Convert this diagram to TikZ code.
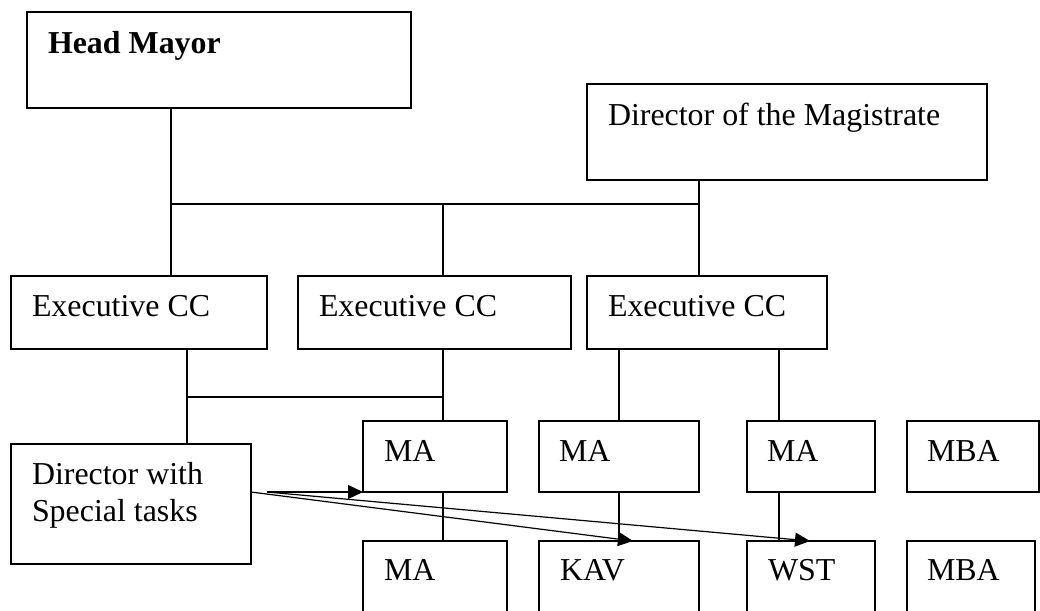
\documentclass[tikz,border=0pt]{standalone}
\usepackage{fontspec}
\setmainfont{Liberation Serif}
\usetikzlibrary{arrows.meta}
\begin{document}
\begin{tikzpicture}[x=1pt,y=-1pt,
  box/.style={draw, line width=1.2pt, inner sep=0pt, outer sep=0pt, rectangle},
  lbl/.style={anchor=base west, inner sep=0pt, outer sep=0pt, font=\fontsize{31.9}{36.7}\selectfont},
  conn/.style={line width=1.2pt},
  arr/.style={line width=1.2pt, -{Triangle[length=15pt,width=14pt]}}]
\clip (0,0) rectangle (1040,610);
\fill[white] (0,0) rectangle (1040,610);
% boxes
\node[box, minimum width=384pt, minimum height=96pt] (head) at (219,60) {};
\node[box, minimum width=400pt, minimum height=96pt] (dirmag) at (787,132) {};
\node[box, minimum width=256pt, minimum height=73pt] (exa) at (139,312.5) {};
\node[box, minimum width=273pt, minimum height=73pt] (exb) at (434.5,312.5) {};
\node[box, minimum width=240pt, minimum height=73pt] (exc) at (707,312.5) {};
\node[box, minimum width=240pt, minimum height=120pt] (dirspec) at (131,504) {};
\node[box, minimum width=144pt, minimum height=71pt] (maa) at (435,456.5) {};
\node[box, minimum width=160pt, minimum height=71pt] (mab) at (619,456.5) {};
\node[box, minimum width=128pt, minimum height=71pt] (mac) at (811,456.5) {};
\node[box, minimum width=132pt, minimum height=71pt] (mbaa) at (973,456.5) {};
\node[box, minimum width=144pt, minimum height=110pt] (mad) at (435,596) {};
\node[box, minimum width=160pt, minimum height=110pt] (kav) at (619,596) {};
\node[box, minimum width=128pt, minimum height=110pt] (wst) at (811,596) {};
\node[box, minimum width=128pt, minimum height=110pt] (mbab) at (971,596) {};
% texts
\node[lbl, font=\fontsize{31.9}{36.7}\selectfont\bfseries] (thead) at (48,54) {Head Mayor};
\node[lbl] (tdirmag) at (608,125) {Director of the Magistrate};
\node[lbl] (texa) at (32,316) {Executive CC};
\node[lbl] (texb) at (319,316) {Executive CC};
\node[lbl] (texc) at (608,316) {Executive CC};
\node[lbl] (tdsa) at (32,484) {Director with};
\node[lbl] (tdsb) at (32,521) {Special tasks};
\node[lbl] (tmaa) at (384,461) {MA};
\node[lbl] (tmab) at (559,461) {MA};
\node[lbl] (tmac) at (767,461) {MA};
\node[lbl] (tmbaa) at (927,461) {MBA};
\node[lbl] (tmad) at (384,580) {MA};
\node[lbl] (tkav) at (560,580) {KAV};
\node[lbl] (twst) at (768,580) {WST};
\node[lbl] (tmbab) at (927,580) {MBA};
% helper coordinates
\coordinate (xa) at (171,204);
\coordinate (xb) at (443,204);
\coordinate (xc) at (699,204);
\coordinate (ya) at (187,397);
\coordinate (yb) at (443,397);
\coordinate (xm) at (619,0);
\coordinate (xw) at (779,0);
\coordinate (s1) at (267,492);
\coordinate (tk) at (633,0);
\coordinate (tw) at (810,0);
% connectors
\draw[conn] (head.south -| xa) -- (exa.north -| xa);
\draw[conn] (xa) -- (xc);
\draw[conn] (dirmag.south -| xc) -- (exc.north -| xc);
\draw[conn] (xb) -- (exb.north -| xb);
\draw[conn] (exa.south -| ya) -- (dirspec.north -| ya);
\draw[conn] (ya) -- (yb);
\draw[conn] (exb.south -| xb) -- (maa.north -| xb);
\draw[conn] (maa.south -| xb) -- (mad.north -| xb);
\draw[conn] (exc.south -| xm) -- (mab.north -| xm);
\draw[conn] (mab.south -| xm) -- (kav.north -| xm);
\draw[conn] (exc.south -| xw) -- (mac.north -| xw);
\draw[conn] (mac.south -| xw) -- (wst.north -| xw);
% arrows
\draw[arr] (s1) -- (maa.south west);
\draw[arr] (dirspec.east |- s1) -- (kav.north -| tk);
\draw[arr] (s1) -- (wst.north -| tw);
\end{tikzpicture}
\end{document}
